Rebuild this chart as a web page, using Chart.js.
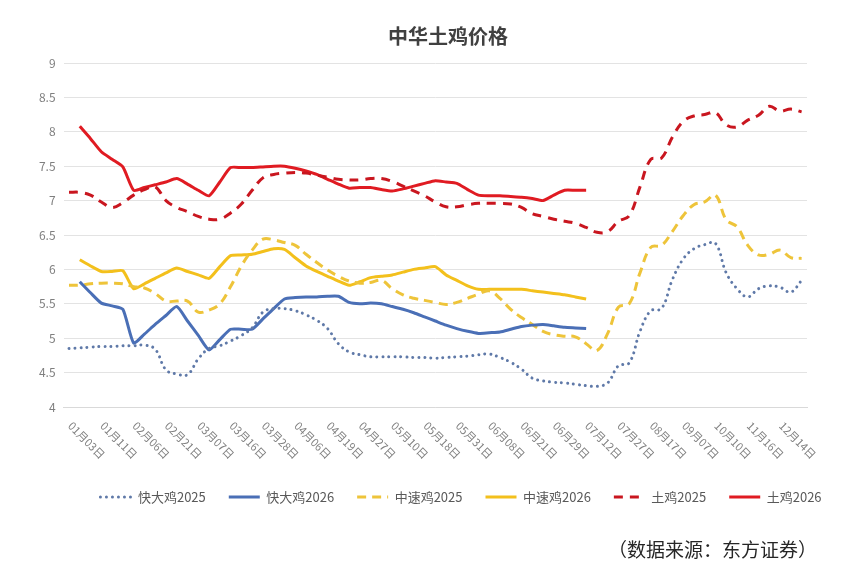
<!DOCTYPE html>
<html>
<head>
<meta charset="utf-8">
<title>中华土鸡价格</title>
<script src="https://cdn.jsdelivr.net/npm/chart.js@4.4.1/dist/chart.umd.min.js"></script>
<style>
  html, body { margin: 0; padding: 0; background: #fff; }
  #wrap { width: 867px; height: 571px; position: relative; }
</style>
</head>
<body>
<div id="wrap"><canvas id="priceChart"></canvas></div>
<script>
// 横轴上显示的日期（每三个分类显示一个）
const tickLabels = ['01月03日', '01月11日', '02月06日', '02月21日', '03月07日', '03月16日',
  '03月28日', '04月06日', '04月19日', '04月27日', '05月10日', '05月18日', '05月31日',
  '06月08日', '06月21日', '06月29日', '07月12日', '07月27日', '08月17日', '09月07日',
  '10月10日', '11月16日', '12月14日'];
const categoryCount = 69;
const labelEvery = 3;

const seriesNames = ['快大鸡2025', '快大鸡2026', '中速鸡2025', '中速鸡2026', '土鸡2025', '土鸡2026'];

// 快大鸡
const kuaida2025 = [4.85, 4.86, 4.87, 4.88, 4.88, 4.89, 4.89, 4.90, 4.84, 4.54,
  4.48, 4.47, 4.70, 4.85, 4.89, 4.96, 5.04, 5.15, 5.38, 5.43,
  5.43, 5.40, 5.34, 5.26, 5.14, 4.92, 4.80, 4.76, 4.73, 4.73,
  4.73, 4.73, 4.72, 4.72, 4.71, 4.72, 4.73, 4.74, 4.76, 4.77,
  4.72, 4.65, 4.55, 4.42, 4.38, 4.36, 4.35, 4.33, 4.31, 4.30,
  4.35, 4.60, 4.64, 5.10, 5.40, 5.43, 5.85, 6.15, 6.30, 6.36,
  6.38, 5.95, 5.72, 5.60, 5.72, 5.76, 5.74, 5.67, 5.84];
const kuaida2026 = [null, 5.82, 5.66, 5.51, 5.47, 5.42, 4.93, 5.06, 5.20, 5.33,
  5.46, 5.25, 5.04, 4.83, 4.98, 5.13, 5.13, 5.13, 5.28, 5.43,
  5.57, 5.59, 5.60, 5.60, 5.61, 5.61, 5.52, 5.50, 5.51, 5.50,
  5.46, 5.42, 5.37, 5.31, 5.25, 5.19, 5.14, 5.10, 5.07, 5.08,
  5.09, 5.13, 5.17, 5.19, 5.20, 5.18, 5.16, 5.15, 5.14];

// 中速鸡
const zhongsu2025 = [5.77, 5.77, 5.79, 5.80, 5.80, 5.79, 5.75, 5.73, 5.65, 5.54,
  5.54, 5.54, 5.38, 5.41, 5.50, 5.75, 6.05, 6.28, 6.44, 6.43,
  6.39, 6.35, 6.22, 6.10, 5.99, 5.90, 5.83, 5.80, 5.81, 5.84,
  5.72, 5.63, 5.58, 5.55, 5.52, 5.49, 5.52, 5.58, 5.64, 5.69,
  5.58, 5.42, 5.30, 5.20, 5.10, 5.05, 5.03, 5.02, 4.92, 4.82,
  5.07, 5.45, 5.50, 5.95, 6.32, 6.35, 6.55, 6.78, 6.94, 6.98,
  7.08, 6.72, 6.62, 6.35, 6.21, 6.22, 6.28, 6.17, 6.16];
const zhongsu2026 = [null, 6.14, 6.05, 5.97, 5.97, 5.98, 5.72, 5.79, 5.87, 5.95,
  6.02, 5.97, 5.92, 5.87, 6.04, 6.20, 6.21, 6.22, 6.26, 6.30,
  6.29, 6.17, 6.05, 5.97, 5.90, 5.83, 5.77, 5.82, 5.88, 5.90,
  5.92, 5.96, 6.00, 6.02, 6.04, 5.92, 5.84, 5.76, 5.71, 5.71,
  5.71, 5.71, 5.71, 5.69, 5.67, 5.65, 5.63, 5.60, 5.57];

// 土鸡
const tuji2025 = [7.12, 7.12, 7.08, 6.98, 6.90, 6.97, 7.08, 7.16, 7.20, 7.00,
  6.90, 6.84, 6.77, 6.73, 6.73, 6.82, 6.95, 7.15, 7.33, 7.38,
  7.40, 7.41, 7.40, 7.37, 7.34, 7.31, 7.30, 7.30, 7.32, 7.32,
  7.28, 7.21, 7.14, 7.07, 6.98, 6.91, 6.91, 6.94, 6.96, 6.96,
  6.96, 6.95, 6.90, 6.81, 6.77, 6.73, 6.70, 6.67, 6.61, 6.54,
  6.55, 6.70, 6.78, 7.20, 7.60, 7.62, 7.92, 8.15, 8.23, 8.25,
  8.28, 8.10, 8.07, 8.17, 8.24, 8.37, 8.30, 8.33, 8.29];
const tuji2026 = [null, 8.08, 7.90, 7.71, 7.60, 7.49, 7.15, 7.19, 7.23, 7.27,
  7.32, 7.24, 7.15, 7.07, 7.27, 7.48, 7.48, 7.48, 7.49, 7.50,
  7.50, 7.47, 7.43, 7.38, 7.31, 7.24, 7.18, 7.19, 7.19, 7.16,
  7.14, 7.17, 7.21, 7.25, 7.29, 7.27, 7.25, 7.16, 7.08, 7.07,
  7.07, 7.06, 7.05, 7.03, 7.00, 7.08, 7.15, 7.15, 7.15];

// 分类：只有每第三个分类带日期
const categories = Array.from({ length: categoryCount }, (_, i) =>
  i % labelEvery === 0 ? (tickLabels[i / labelEvery] || '') : '');

Chart.defaults.font.family = '"Noto Sans CJK SC", "Noto Sans", sans-serif';

function line(label, data, color, dash, dotted, tension) {
  return {
    label: label,
    data: data,
    borderColor: color,
    backgroundColor: color,
    borderWidth: 3,
    borderDash: dash,
    borderCapStyle: dotted ? 'round' : 'butt',
    pointRadius: 0,
    pointHoverRadius: 0,
    tension: tension,
    fill: false
  };
}

// 标题、来源和斜排的日期标签
const extraText = {
  id: 'extraText',
  afterLayout(chart) {
    const lg = chart.legend;
    const dx = 461 - (lg.left + lg.right) / 2;
    lg.left += dx;
    lg.right += dx;
    lg.top = 497 - 23 - 13 / 2;
  },
  afterDraw(chart) {
    const ctx = chart.ctx;
    const xs = chart.scales.x;
    ctx.save();
    ctx.fillStyle = '#404040';
    ctx.font = 'bold 20px "Noto Sans CJK SC"';
    ctx.textAlign = 'center';
    ctx.textBaseline = 'middle';
    ctx.fillText('中华土鸡价格', 448, 36);

    ctx.fillStyle = '#262626';
    ctx.font = '19px "Noto Sans CJK SC"';
    ctx.textAlign = 'right';
    ctx.fillText('（数据来源：东方证券）', 817, 550);

    ctx.fillStyle = '#808080';
    ctx.font = '11px "Noto Sans CJK SC"';
    ctx.textAlign = 'left';
    ctx.textBaseline = 'top';
    categories.forEach((c, i) => {
      if (!c) return;
      const x = xs.getPixelForValue(i);
      ctx.save();
      ctx.translate(x + 5, chart.chartArea.bottom + 13);
      ctx.rotate(Math.PI / 4);
      ctx.fillText(c, 0, 0);
      ctx.restore();
    });
    ctx.restore();
  }
};

const ctx = document.getElementById('priceChart').getContext('2d');
const priceChart = new Chart(ctx, {
  type: 'line',
  data: {
    labels: categories,
    datasets: [
      line(seriesNames[0], kuaida2025, '#5f79a8', [0.01, 6], true, 0.4),
      line(seriesNames[1], kuaida2026, '#4a6fb6', [], false, 0.2),
      line(seriesNames[2], zhongsu2025, '#eec43a', [9, 6], false, 0.4),
      line(seriesNames[3], zhongsu2026, '#f3c01c', [], false, 0.2),
      line(seriesNames[4], tuji2025, '#c9161f', [9, 7], false, 0.4),
      line(seriesNames[5], tuji2026, '#e01b22', [], false, 0.2)
    ]
  },
  options: {
    responsive: true,
    maintainAspectRatio: false,
    animation: false,
    layout: { padding: { top: 63, right: 60, bottom: 0, left: 0 } },
    plugins: {
      title: { display: false },
      tooltip: { enabled: false },
      legend: {
        position: 'bottom',
        labels: {
          usePointStyle: true,
          pointStyle: 'line',
          pointStyleWidth: 31,
          padding: 23,
          color: '#595959',
          font: { size: 13 },
          // 图例里的线型跟随数据集（虚线、点线）
          generateLabels: function(chart) {
            const items = Chart.defaults.plugins.legend.labels.generateLabels(chart);
            return items.map(function(item) {
              const ds = chart.data.datasets[item.datasetIndex];
              item.lineDash = ds.borderDash;
              item.lineCap = ds.borderCapStyle;
              item.lineWidth = 3;
              item.strokeStyle = ds.borderColor;
              return item;
            });
          }
        }
      }
    },
    scales: {
      x: {
        type: 'category',
        offset: true,
        grid: { display: false },
        border: { display: true, color: '#d9d9d9' },
        ticks: { display: false },
        afterFit: (s) => { s.height = 118; }
      },
      y: {
        min: 4,
        max: 9,
        afterFit: (s) => { s.width = 63.6; },
        grid: { color: '#e3e3e3', drawTicks: false },
        border: { display: false },
        ticks: {
          stepSize: 0.5,
          padding: 8,
          color: '#7f7f7f',
          font: { size: 12 },
          callback: (v) => String(v)
        }
      }
    }
  },
  plugins: [extraText]
});
</script>
</body>
</html>
